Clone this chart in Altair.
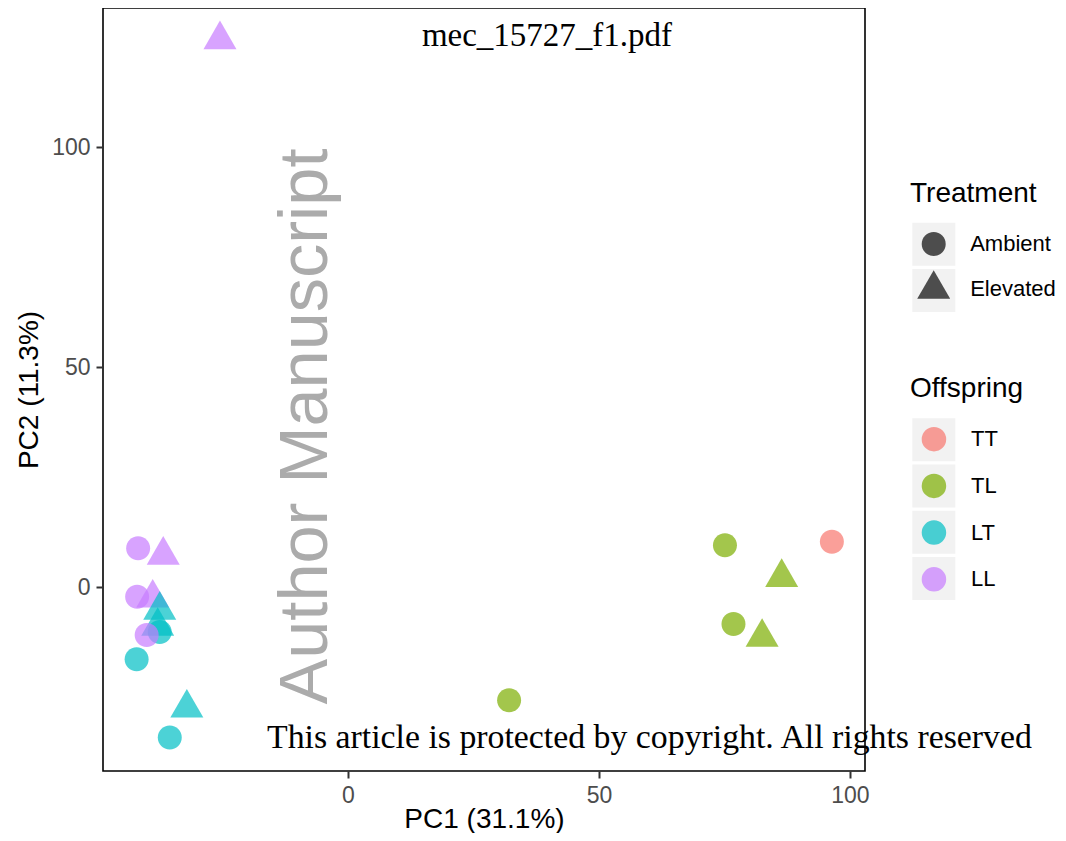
import altair as alt
import pandas as pd

# ---- data ----
pc1 = [-41.8, -36.8, -42.0, -38.9, -37.5, -37.9, -37.5, -40.1, -42.1, -32.1, -35.5, -25.5,
       75.1, 96.4, 86.4, 76.8, 82.5, 32.1]
pc2 = [8.8, 7.25, -2.2, -2.5, -5.25, -8.9, -10.2, -10.9, -16.4, -27.5, -34.2, 124.4,
       9.5, 10.3, 2.2, -8.4, -11.4, -25.7]
offspring = ["LL", "LL", "LL", "LL", "LT", "LT", "LT", "LL", "LT", "LT", "LT", "LL",
             "TL", "TT", "TL", "TL", "TL", "TL"]
treatment = ["Ambient", "Elevated", "Ambient", "Elevated", "Elevated", "Elevated", "Ambient",
             "Ambient", "Ambient", "Elevated", "Ambient", "Elevated",
             "Ambient", "Ambient", "Elevated", "Ambient", "Elevated", "Ambient"]

offspring_levels = ["TT", "TL", "LT", "LL"]
offspring_colors = ["#F8766D", "#7CAE00", "#00BFC4", "#C77CFF"]
treatment_levels = ["Ambient", "Elevated"]
x_ticks = [0, 50, 100]
y_ticks = [0, 50, 100]

watermark_top = ["mec_15727_f1.pdf"]
watermark_side = ["Author Manuscript"]
watermark_bottom = ["This article is protected by copyright. All rights reserved"]

CIRCLE = "M0.727,0A0.727,0.727,0,1,1,-0.727,0A0.727,0.727,0,1,1,0.727,0Z"
TRIANGLE = "M-1,0.577L1,0.577L0,-1.155Z"

df = pd.DataFrame({"PC1": pc1, "PC2": pc2, "Offspring": offspring, "Treatment": treatment})

W, H = 762, 763
LX = 807  # legend left, relative to plot origin

points = alt.Chart(df).mark_point(filled=True, opacity=0.7, size=1089, strokeWidth=0).encode(
    x=alt.X("PC1:Q",
            scale=alt.Scale(domain=[-48.8, 103.0], nice=False, zero=False),
            axis=alt.Axis(values=x_ticks, title="PC1 (31.1%)",
                          titleY=56, titleBaseline="alphabetic")),
    y=alt.Y("PC2:Q",
            scale=alt.Scale(domain=[-41.8, 131.6], nice=False, zero=False),
            axis=alt.Axis(values=y_ticks, title="PC2 (11.3%)", titlePadding=8)),
    fill=alt.Fill("Offspring:N",
                  scale=alt.Scale(domain=offspring_levels, range=offspring_colors),
                  legend=alt.Legend(title="Offspring", orient="none", legendX=LX, legendY=366.6,
                                    symbolType="circle", symbolSize=600, symbolOpacity=0.7,
                                    symbolStrokeWidth=0, symbolOffset=11.45, labelOffset=24.5,
                                    rowPadding=21.7, titlePadding=24.1, padding=0, zindex=2)),
    shape=alt.Shape("Treatment:N",
                    scale=alt.Scale(domain=treatment_levels, range=[CIRCLE, TRIANGLE]),
                    legend=alt.Legend(title="Treatment", orient="none", legendX=LX, legendY=171.9,
                                      symbolSize=1089, symbolFillColor="#4D4D4D", symbolOpacity=1,
                                      symbolStrokeWidth=0, symbolOffset=7.2, labelOffset=20,
                                      rowPadding=13.3, titlePadding=19.6, padding=0, zindex=2)),
)

# grey key backgrounds (legend only, marks invisible)
gray_off = alt.Chart(pd.DataFrame({"OffKey": offspring_levels})).mark_square(
    filled=True, opacity=0).encode(
    color=alt.Color("OffKey:N", scale=alt.Scale(range=["#F2F2F2"] * 4),
                    legend=alt.Legend(title=None, orient="none", legendX=809.3, legendY=410.3,
                                      symbolType="square", symbolSize=1849, symbolOpacity=1,
                                      symbolStrokeWidth=0, labelExpr="''", labelFontSize=1,
                                      rowPadding=3.2, padding=0, zindex=0))
)
gray_trt = alt.Chart(pd.DataFrame({"TrtKey": treatment_levels})).mark_square(
    filled=True, opacity=0, color="#F2F2F2").encode(
    stroke=alt.Stroke("TrtKey:N", scale=alt.Scale(range=["#F2F2F2"] * 2),
                      legend=alt.Legend(title=None, orient="none", legendX=809.3, legendY=214.7,
                                        symbolType="square", symbolSize=1849, symbolOpacity=1,
                                        symbolFillColor="#F2F2F2", symbolStrokeWidth=0,
                                        labelExpr="''", labelFontSize=1,
                                        rowPadding=3.3, padding=0, zindex=0))
)

txt_top = alt.Chart(pd.DataFrame({"t": watermark_top})).mark_text(
    font="Liberation Serif", fontSize=33, color="black", align="center", baseline="alphabetic"
).encode(text="t:N", x=alt.value(444), y=alt.value(38))

txt_side = alt.Chart(pd.DataFrame({"t": watermark_side})).mark_text(
    font="Liberation Sans", fontSize=68.5, color="#ABABAB", align="center", baseline="alphabetic",
    angle=270
).encode(text="t:N", x=alt.value(223.5), y=alt.value(418.5))

txt_bottom = alt.Chart(pd.DataFrame({"t": watermark_bottom})).mark_text(
    font="Liberation Serif", fontSize=33.8, color="black", align="left", baseline="alphabetic"
).encode(text="t:N", x=alt.value(164), y=alt.value(740))

chart = alt.layer(gray_trt, gray_off, points, txt_side, txt_top, txt_bottom).properties(
    width=W, height=H,
    background="white",
    autosize=alt.AutoSizeParams(type="none"),
    padding={"left": 95, "top": 0, "right": 193, "bottom": 62},
).configure_view(
    stroke="black", strokeWidth=1.6, fill="white"
).configure_axis(
    grid=False, domain=False,
    ticks=True, tickSize=7, tickWidth=2, tickColor="#333333",
    labelFont="Liberation Sans", labelFontSize=23, labelColor="#4D4D4D", labelPadding=6,
    titleFont="Liberation Sans", titleFontSize=28, titleFontWeight="normal", titleColor="black",
    titlePadding=4,
).configure_legend(
    titleFont="Liberation Sans", titleFontSize=28, titleFontWeight="normal", titleColor="black",
    labelFont="Liberation Sans", labelFontSize=22, labelColor="black",
)

chart.save("out.html", embed_options={"renderer": "svg", "actions": False})
